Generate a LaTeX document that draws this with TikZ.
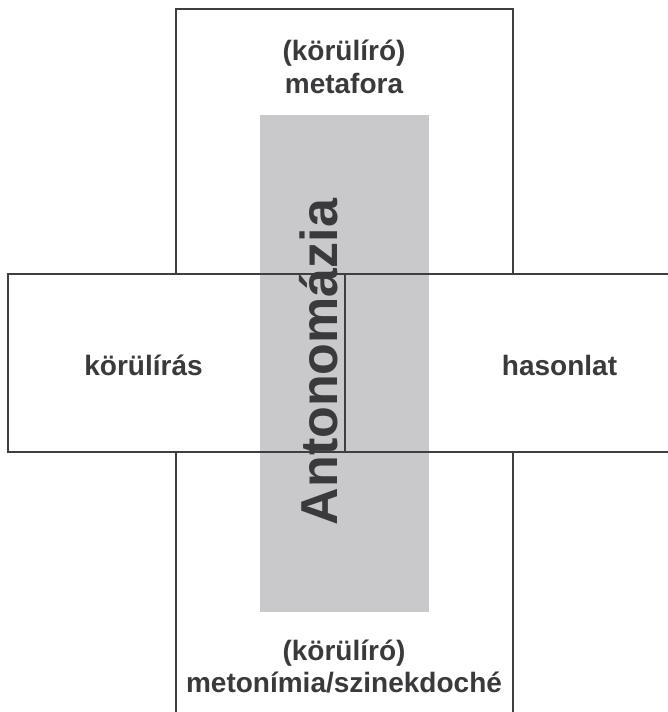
\documentclass[tikz,border=0pt]{standalone}
\usepackage{fontspec}
\setmainfont{Liberation Sans}
\definecolor{lineC}{HTML}{3E3E40}
\definecolor{textC}{HTML}{3A3A3C}
\definecolor{bandC}{HTML}{C9C9CB}
\begin{document}
\begin{tikzpicture}[x=1bp,y=-1bp,
  frame/.style={draw=lineC,line width=2bp},
  divider/.style={draw=lineC,line width=1.6bp},
  lbl/.style={text=textC,font=\bfseries\fontsize{28bp}{34bp}\selectfont,anchor=base,inner sep=0pt},
  big/.style={text=textC,font=\bfseries\fontsize{52bp}{60bp}\selectfont,anchor=base,inner sep=0pt,rotate=90}]
\useasboundingbox (0,0) rectangle (668,712);
\clip (0,0) rectangle (668,712);
% gray band
\fill[bandC] (260,115) rectangle (429,612);
% vertical rectangle (top part and bottom part)
\draw[frame] (175.5,274) -- (175.5,9) -- (512.5,9) -- (512.5,274);
\draw[frame] (175.5,452) -- (175.5,720);
\draw[frame] (512.5,452) -- (512.5,720);
% horizontal rectangle
\draw[frame] (680,274) -- (7.5,274) -- (7.5,452) -- (680,452);
% divider
\coordinate (dtop) at (345,274);
\coordinate (dbot) at (345,452);
\draw[divider] (dtop) -- (dbot);
% texts
\node[lbl] (t1) at (344,61) {(körülíró)};
\node[lbl] (t2) at (344,94) {metafora};
\node[lbl] (l) at (143.5,375) {körülírás};
\node[lbl] (r) at (559.5,375) {hasonlat};
\node[lbl] (b1) at (344,660) {(körülíró)};
\node[lbl] (b2) at (344,692) {metonímia/szinekdoché};
\node[big] (ant) at (337,362) {Antonomázia};
\end{tikzpicture}
\end{document}
